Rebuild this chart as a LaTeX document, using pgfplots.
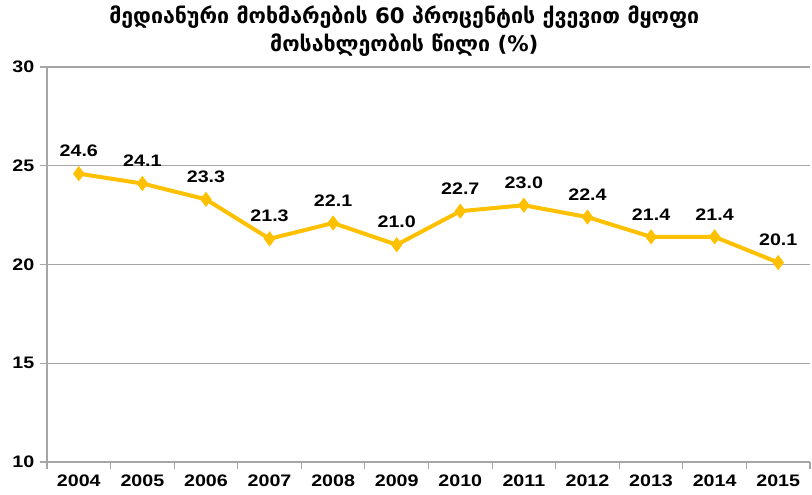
\documentclass[border=0pt]{standalone}
\usepackage{fontspec}
\setmainfont{Liberation Sans}
\newfontfamily\lab[FakeStretch=1.18]{Liberation Sans}
\newfontfamily\geo{DejaVu Sans}
\usepackage{pgfplots}
\pgfplotsset{compat=1.18}
\definecolor{lineor}{HTML}{FFC000}
\definecolor{gridc}{HTML}{A6A6A6}
\begin{document}
\begin{tikzpicture}
\begin{axis}[
  at={(0,0)}, anchor=south west,
  scale only axis,
  width=572.25pt, height=296.25pt,
  xmin=-0.5, xmax=11.5,
  ymin=10, ymax=30,
  ytick={10,15,20,25,30},
  xtick={0,...,11},
  xticklabels={2004,2005,2006,2007,2008,2009,2010,2011,2012,2013,2014,2015},
  minor xtick={-0.5,0.5,...,11.5},
  major x tick style={draw=none},
  minor x tick style={draw=gridc, line width=0.8pt},
  y tick style={draw=gridc, line width=0.8pt},
  tick align=outside,
  major tick length=5pt,
  minor tick length=5pt,
  axis x line*=bottom,
  axis y line*=left,
  axis line style={draw=gridc, line width=1pt, -},
  ymajorgrids,
  grid style={draw=gridc, line width=0.8pt},
  /pgf/number format/assume math mode=true,
  ticklabel style={font=\lab\bfseries\fontsize{12.5}{14}\selectfont},
  yticklabel style={xshift=-1pt},
  xticklabel style={yshift=-1pt},
  nodes near coords,
  point meta=explicit symbolic,
  every node near coord/.append style={font=\lab\bfseries\fontsize{12.5}{14}\selectfont, anchor=south, yshift=9pt, text=black},
  clip=false,
]
\addplot[color=lineor, line width=3pt, mark=diamond*, mark size=5.3pt, mark options={fill=lineor, draw=lineor, line width=0.5pt}]
  coordinates {
  (0,24.6) [24.6]
  (1,24.1) [24.1]
  (2,23.3) [23.3]
  (3,21.3) [21.3]
  (4,22.1) [22.1]
  (5,21.0) [21.0]
  (6,22.7) [22.7]
  (7,23.0) [23.0]
  (8,22.4) [22.4]
  (9,21.4) [21.4]
  (10,21.4) [21.4]
  (11,20.1) [20.1]
  };
\end{axis}
\node[align=center, font=\geo\bfseries\fontsize{16}{21.5}\selectfont] at (268pt,323.25pt) {მედიანური მოხმარების 60 პროცენტის ქვევით მყოფი\\მოსახლეობის წილი (\%)};
\path[use as bounding box] (-35.25pt,-24pt) rectangle (573.75pt,346.5pt);
\end{tikzpicture}
\end{document}
